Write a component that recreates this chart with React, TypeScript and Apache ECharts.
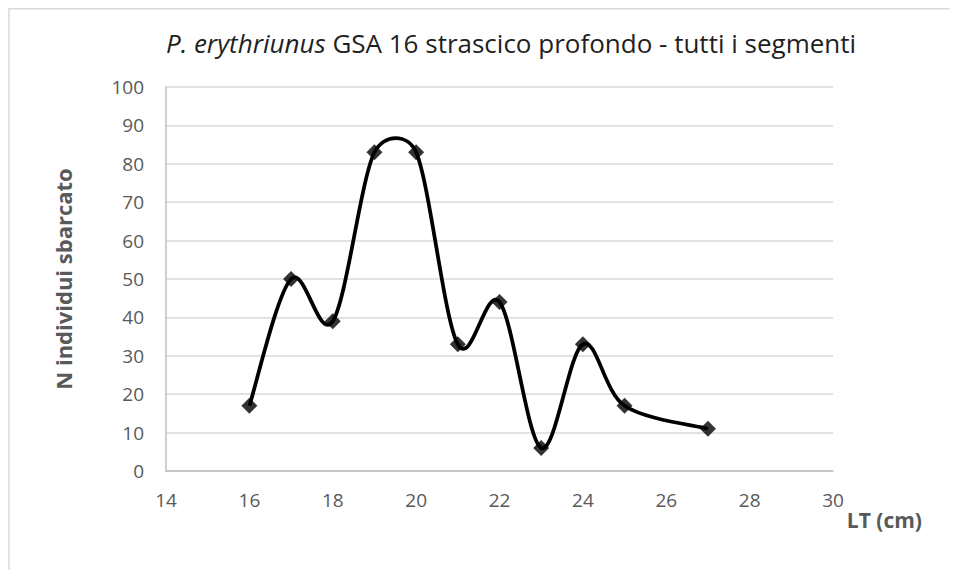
import React, { useEffect, useRef } from "react";
import * as echarts from "echarts";

const lengths = [16, 17, 18, 19, 20, 21, 22, 23, 24, 25, 27];
const counts = [17, 50, 39, 83, 83, 33, 44, 6, 33, 17, 11];
const titleItalic = "P. erythriunus";
const titleRest = " GSA 16 strascico profondo - tutti i segmenti";
const yName = "N individui sbarcato";
const xName = "LT (cm)";

const FONT = "'Open Sans', 'Liberation Sans', sans-serif";
const TENSION = 1 / 6;
const CAP = 0.5;

// tangent arm at point i (in pixel space), capped relative to the segment it belongs to
function arm(pts: number[][], i: number, segLen: number): number[] {
  const n = pts.length;
  const prev = pts[Math.max(i - 1, 0)];
  const next = pts[Math.min(i + 1, n - 1)];
  let ax = (next[0] - prev[0]) * TENSION;
  let ay = (next[1] - prev[1]) * TENSION;
  const len = Math.hypot(ax, ay);
  const maxLen = segLen * CAP;
  if (len > maxLen && len > 0) {
    ax = (ax * maxLen) / len;
    ay = (ay * maxLen) / len;
  }
  return [ax, ay];
}

function smoothPath(pts: number[][]): string {
  const n = pts.length;
  let d = `M${pts[0][0]},${pts[0][1]}`;
  for (let i = 0; i < n - 1; i++) {
    const p1 = pts[i];
    const p2 = pts[i + 1];
    const seg = Math.hypot(p2[0] - p1[0], p2[1] - p1[1]);
    const a1 = arm(pts, i, seg);
    const a2 = arm(pts, i + 1, seg);
    d += ` C${p1[0] + a1[0]},${p1[1] + a1[1]} ${p2[0] - a2[0]},${p2[1] - a2[1]} ${p2[0]},${p2[1]}`;
  }
  return d;
}

export default function App() {
  const ref = useRef<HTMLDivElement>(null);
  useEffect(() => {
    if (!ref.current) return;
    const chart = echarts.init(ref.current, null, { renderer: "svg" });
    const points = lengths.map((x, i) => [x, counts[i]]);
    chart.setOption({
      animation: false,
      backgroundColor: "#ffffff",
      textStyle: { fontFamily: FONT },
      title: {
        text: `{i|${titleItalic}}{n|${titleRest}}`,
        left: 503,
        textAlign: "center",
        top: 22,
        padding: 0,
        textStyle: {
          fontWeight: "normal",
          rich: {
            i: { fontStyle: "italic", fontSize: 26, color: "#1f1f1f", fontFamily: FONT, fontWeight: "normal" },
            n: { fontSize: 26, color: "#1f1f1f", fontFamily: FONT, fontWeight: "normal" },
          },
        },
      },
      grid: { left: 158, right: 117, top: 79, bottom: 99, containLabel: false },
      xAxis: {
        type: "value",
        min: 14,
        max: 30,
        interval: 2,
        axisLine: { lineStyle: { color: "#bfbfbf", width: 1.5 } },
        axisTick: { show: false },
        splitLine: { show: false },
        axisLabel: { color: "#595959", fontSize: 19, margin: 19, fontFamily: FONT },
      },
      yAxis: {
        type: "value",
        min: 0,
        max: 100,
        interval: 10,
        name: yName,
        nameLocation: "middle",
        nameGap: 92,
        nameTextStyle: { fontWeight: "bold", fontSize: 22, color: "#595959", fontFamily: FONT },
        axisLine: { show: true, lineStyle: { color: "#bfbfbf", width: 1.5 } },
        axisTick: { show: false },
        splitLine: { lineStyle: { color: "#d9d9d9", width: 1.5 } },
        axisLabel: { color: "#595959", fontSize: 19, margin: 22, fontFamily: FONT },
      },
      graphic: [
        {
          type: "rect",
          shape: { x: 1, y: 0.75, width: 1000, height: 1000 },
          style: { fill: "none", stroke: "#d9d9d9", lineWidth: 1.5 },
          silent: true,
        },
        {
          type: "text",
          x: 914,
          y: 512,
          style: {
            text: xName,
            align: "right",
            verticalAlign: "middle",
            fontWeight: "bold",
            fontSize: 21,
            fill: "#595959",
            fontFamily: FONT,
          },
        },
      ],
      series: [
        {
          type: "custom",
          data: [points[0]],
          encode: { x: 0, y: 1 },
          z: 2,
          renderItem: (params: any, api: any) => {
            const px = points.map((p) => api.coord(p));
            return {
              type: "path",
              shape: { pathData: smoothPath(px) },
              style: { fill: "none", stroke: "#000000", lineWidth: 3.75 },
            };
          },
        },
        {
          type: "scatter",
          data: points,
          symbol: "diamond",
          symbolSize: 16,
          z: 3,
          itemStyle: { color: "#000000" },
        },
      ],
    });
    return () => chart.dispose();
  }, []);
  return <div ref={ref} style={{ width: 942, height: 562 }} />;
}
